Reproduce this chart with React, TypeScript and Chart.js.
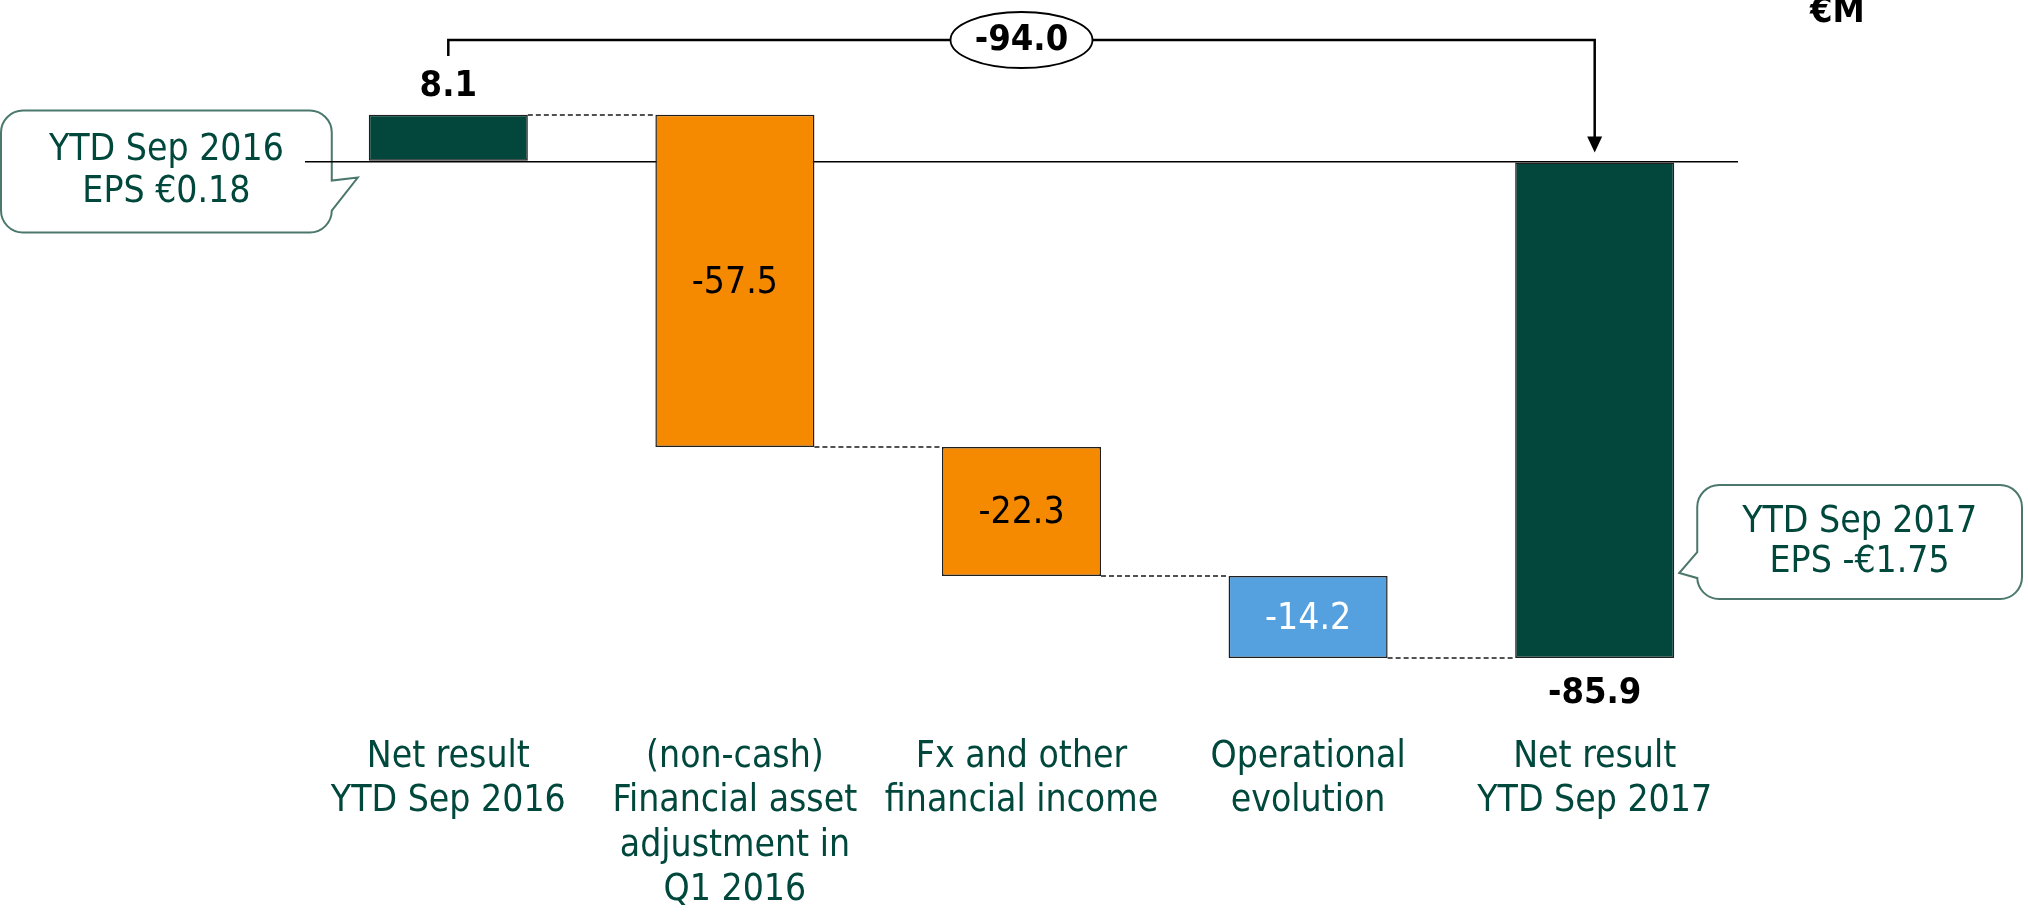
import React, { useEffect, useRef } from "react";
import { Chart, registerables } from "chart.js";

Chart.register(...registerables);

// ---------- data ----------
const categories: string[][] = [
  ["Net result", "YTD Sep 2016"],
  ["(non-cash)", "Financial asset", "adjustment in", "Q1 2016"],
  ["Fx and other", "financial income"],
  ["Operational", "evolution"],
  ["Net result", "YTD Sep 2017"],
];
const values: number[] = [8.1, -57.5, -22.3, -14.2, -85.9];
const kinds: string[] = ["total", "delta", "delta", "delta", "total"];
const calloutStart: string[] = ["YTD Sep 2016", "EPS €0.18"];
const calloutEnd: string[] = ["YTD Sep 2017", "EPS -€1.75"];
const unitLabel = "€M";

// ---------- styles ----------
const BAR_COLORS = ["#02463c", "#f58a00", "#f58a00", "#55a1e0", "#02463c"];
const LABEL_COLORS = ["#000000", "#000000", "#000000", "#ffffff", "#000000"];
const GREEN_TEXT = "#00473c";
const CALLOUT_BORDER = "#4b776c";
const FONT = '"DejaVu Sans Condensed", "DejaVu Sans", sans-serif';
const FS = 37;
const FSB = 36;

// floating ranges for waterfall
let running = 0;
const ranges: number[][] = values.map((v, i) => {
  if (kinds[i] === "total") {
    running = v;
    return [0, v];
  }
  const s = running;
  running = +(running + v).toFixed(1);
  return [s, running];
});
const totalChange = (values[values.length - 1] - values[0]).toFixed(1);

function fmt(v: number) {
  return v.toFixed(1);
}

const annot = {
  id: "annot",
  beforeDraw(chart: any) {
    const ctx = chart.ctx as CanvasRenderingContext2D;
    const meta = chart.getDatasetMeta(0);
    const y = chart.scales.y;
    const zeroY = y.getPixelForValue(0);
    const r = 22;
    ctx.save();
    ctx.lineWidth = 2;
    ctx.strokeStyle = CALLOUT_BORDER;
    ctx.fillStyle = "#ffffff";

    // callout 1 (left, pointer on right)
    {
      const b0 = meta.data[0];
      const x1 = b0.x - b0.width / 2 - 37;
      const x0 = 1;
      const y0 = zeroY - 51;
      const y1 = zeroY + 71;
      const pA = zeroY + 19;
      const pB = zeroY + 49;
      const tx = x1 + 26;
      const ty = zeroY + 16;
      ctx.beginPath();
      ctx.moveTo(x0 + r, y0);
      ctx.lineTo(x1 - r, y0);
      ctx.arcTo(x1, y0, x1, y0 + r, r);
      ctx.lineTo(x1, pA);
      ctx.lineTo(tx, ty);
      ctx.lineTo(x1, pB);
      ctx.lineTo(x1, y1 - r);
      ctx.arcTo(x1, y1, x1 - r, y1, r);
      ctx.lineTo(x0 + r, y1);
      ctx.arcTo(x0, y1, x0, y1 - r, r);
      ctx.lineTo(x0, y0 + r);
      ctx.arcTo(x0, y0, x0 + r, y0, r);
      ctx.closePath();
      ctx.fill();
      ctx.stroke();
      ctx.fillStyle = GREEN_TEXT;
      ctx.font = `${FS}px ${FONT}`;
      ctx.textAlign = "center";
      ctx.textBaseline = "middle";
      const cx = (x0 + x1) / 2;
      const cy = (y0 + y1) / 2;
      ctx.fillText(calloutStart[0], cx, cy - 21);
      ctx.fillText(calloutStart[1], cx, cy + 21);
    }

    // callout 2 (right, pointer on left)
    {
      ctx.fillStyle = "#ffffff";
      const b4 = meta.data[4];
      const barBottom = Math.max(b4.y, b4.base);
      const x0 = b4.x + b4.width / 2 + 23;
      const x1 = chart.width - 6;
      const y0 = barBottom - 173;
      const y1 = barBottom - 59;
      const pA = barBottom - 106;
      const pB = barBottom - 80;
      const tx = x0 - 18;
      const ty = barBottom - 85;
      ctx.beginPath();
      ctx.moveTo(x0 + r, y0);
      ctx.lineTo(x1 - r, y0);
      ctx.arcTo(x1, y0, x1, y0 + r, r);
      ctx.lineTo(x1, y1 - r);
      ctx.arcTo(x1, y1, x1 - r, y1, r);
      ctx.lineTo(x0 + r, y1);
      ctx.arcTo(x0, y1, x0, y1 - r, r);
      ctx.lineTo(x0, pB);
      ctx.lineTo(tx, ty);
      ctx.lineTo(x0, pA);
      ctx.lineTo(x0, y0 + r);
      ctx.arcTo(x0, y0, x0 + r, y0, r);
      ctx.closePath();
      ctx.fill();
      ctx.stroke();
      ctx.fillStyle = GREEN_TEXT;
      ctx.font = `${FS}px ${FONT}`;
      ctx.textAlign = "center";
      ctx.textBaseline = "middle";
      const cx = (x0 + x1) / 2;
      const cy = (y0 + y1) / 2;
      ctx.fillText(calloutEnd[0], cx, cy - 20);
      ctx.fillText(calloutEnd[1], cx, cy + 20);
    }
    ctx.restore();
  },
  afterDatasetsDraw(chart: any) {
    const ctx = chart.ctx as CanvasRenderingContext2D;
    const meta = chart.getDatasetMeta(0);
    const y = chart.scales.y;
    const area = chart.chartArea;
    const zeroY = y.getPixelForValue(0);
    ctx.save();

    // dashed connectors
    ctx.strokeStyle = "#1a1a1a";
    ctx.lineWidth = 1.3;
    ctx.setLineDash([5, 3]);
    for (let i = 0; i < meta.data.length - 1; i++) {
      const a = meta.data[i];
      const b = meta.data[i + 1];
      const ly = Math.round(y.getPixelForValue(ranges[i][1]));
      ctx.beginPath();
      ctx.moveTo(a.x + a.width / 2, ly);
      ctx.lineTo(b.x - b.width / 2, ly);
      ctx.stroke();
    }
    ctx.setLineDash([]);

    // value labels
    ctx.textAlign = "center";
    ctx.textBaseline = "middle";
    meta.data.forEach((bar: any, i: number) => {
      const top = Math.min(bar.y, bar.base);
      const bottom = Math.max(bar.y, bar.base);
      const txt = fmt(values[i]);
      if (kinds[i] === "total") {
        ctx.font = `bold ${FSB}px ${FONT}`;
        ctx.fillStyle = "#000000";
        if (values[i] >= 0) ctx.fillText(txt, bar.x, top - 28);
        else ctx.fillText(txt, bar.x, bottom + 36);
      } else {
        ctx.font = `${FS}px ${FONT}`;
        ctx.fillStyle = LABEL_COLORS[i];
        ctx.fillText(txt, bar.x, (top + bottom) / 2 + 2);
      }
    });

    // bracket with total change
    const first = meta.data[0];
    const last = meta.data[meta.data.length - 1];
    const by = area.top - 6;
    ctx.strokeStyle = "#000000";
    ctx.lineWidth = 2.5;
    ctx.beginPath();
    ctx.moveTo(first.x, area.top + 10);
    ctx.lineTo(first.x, by);
    ctx.lineTo(last.x, by);
    ctx.lineTo(last.x, zeroY - 24);
    ctx.stroke();
    ctx.fillStyle = "#000000";
    ctx.beginPath();
    ctx.moveTo(last.x, zeroY - 9);
    ctx.lineTo(last.x - 7.5, zeroY - 25);
    ctx.lineTo(last.x + 7.5, zeroY - 25);
    ctx.closePath();
    ctx.fill();

    const ex = (first.x + last.x) / 2;
    ctx.beginPath();
    ctx.ellipse(ex, by, 71, 28, 0, 0, Math.PI * 2);
    ctx.fillStyle = "#ffffff";
    ctx.fill();
    ctx.lineWidth = 1.8;
    ctx.stroke();
    ctx.fillStyle = "#000000";
    ctx.font = `bold ${FSB}px ${FONT}`;
    ctx.fillText(totalChange, ex, by + 1);

    // unit label
    ctx.textAlign = "left";
    ctx.textBaseline = "alphabetic";
    ctx.font = `bold ${FSB}px ${FONT}`;
    ctx.fillText(unitLabel, area.right + 72, 22);

    ctx.restore();
  },
};

export default function App() {
  const ref = useRef<HTMLCanvasElement>(null);
  useEffect(() => {
    document.body.style.margin = "0";
    const chart = new Chart(ref.current as HTMLCanvasElement, {
      type: "bar",
      data: {
        labels: categories as any,
        datasets: [
          {
            data: ranges as any,
            backgroundColor: BAR_COLORS,
            borderColor: "#1f1f1f",
            borderWidth: 1.5,
            borderSkipped: false,
            categoryPercentage: 1,
            barPercentage: 0.555,
          },
        ],
      },
      options: {
        responsive: false,
        animation: false,
        devicePixelRatio: 1,
        layout: { padding: { top: 46, left: 305, right: 290, bottom: 0 } },
        plugins: { legend: { display: false }, tooltip: { enabled: false } },
        scales: {
          x: {
            grid: { display: false, drawTicks: false },
            border: { display: false },
            afterFit: (scale: any) => {
              scale.height = 186;
            },
            ticks: {
              color: GREEN_TEXT,
              font: { family: FONT, size: FS, lineHeight: 1.2 },
              padding: 7,
              maxRotation: 0,
              minRotation: 0,
              autoSkip: false,
            },
          },
          y: {
            min: -98,
            max: 20,
            ticks: { display: false, stepSize: 2 },
            border: { display: false },
            grid: {
              drawTicks: false,
              color: (c: any) => (c.tick && c.tick.value === 0 ? "#000000" : "rgba(0,0,0,0)"),
              lineWidth: 1.6,
            },
          },
        },
      },
      plugins: [annot as any],
    });
    return () => chart.destroy();
  }, []);
  return (
    <div style={{ width: 2028, height: 914 }}>
      <canvas ref={ref} width={2028} height={914} style={{ display: "block" }} />
    </div>
  );
}
